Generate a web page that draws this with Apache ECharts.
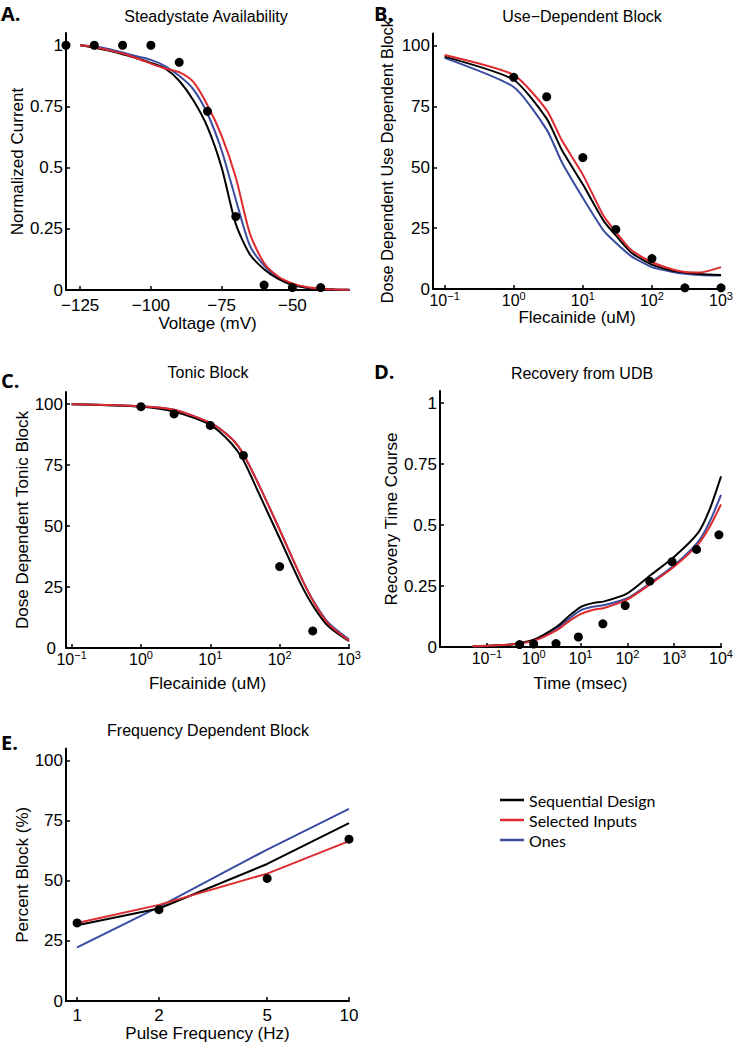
<!DOCTYPE html>
<html><head><meta charset="utf-8">
<script src="https://cdn.jsdelivr.net/npm/echarts@6/dist/echarts.min.js"></script>
<style>html,body{margin:0;padding:0;background:#fff}#c{width:736px;height:1043px}</style>
</head><body><div id="c"></div>
<script>
// ---------- Data ----------
const seriesNames = ['Sequential Design', 'Selected Inputs', 'Ones'];
const seriesColors = ['#000000', '#dd2a2e', '#3a4ca0'];

// A. Steadystate Availability
const aVolt = [-125,-120,-115,-110,-105,-100,-95,-90,-85,-80,-75,-70,-65,-60,-55,-50,-45,-40,-35,-30];
const aSeq  = [1.0,0.99,0.978,0.963,0.947,0.928,0.905,0.855,0.775,0.665,0.5,0.27,0.145,0.085,0.045,0.02,0.009,0.004,0.002,0.001];
const aSel  = [1.0,0.993,0.98,0.966,0.947,0.925,0.905,0.89,0.85,0.755,0.63,0.46,0.23,0.11,0.055,0.027,0.012,0.005,0.002,0.001];
const aOnes = [1.0,0.995,0.985,0.97,0.955,0.94,0.915,0.875,0.82,0.72,0.57,0.37,0.18,0.1,0.05,0.023,0.01,0.004,0.002,0.001];
const aExpX = [-130,-120,-110,-100,-90,-80,-70,-60,-50,-40];
const aExpY = [1.0,1.0,1.0,1.0,0.93,0.73,0.30,0.02,0.01,0.01];

// B. Use-Dependent Block
const bConc = [0.1,1,3,5,10,20,30,50,100,200,300,500,1000];
const bSeq  = [95.5,86,70,57,43,28,22,15,10,7.5,6.8,6.2,5.8];
const bSel  = [96.2,88,73.5,61,47,30,23.5,16,11,8,7,6.8,9];
const bOnes = [95,83,65.5,52,37.5,24,19,13.5,9,7,6.3,5.8,5.5];
const bExpX = [1,3,10,30,100,300,1000];
const bExpY = [87,79,54,24.5,12.5,0.5,0.5];

// C. Tonic Block
const cConc = [0.1,1,3,10,20,30,50,100,200,300,500,1000];
const cSeq  = [100,99,97,91.5,84,77,63.5,45,26.5,17.5,9,2.8];
const cSel  = [100,99.2,97.7,92.3,86,79.5,67,48.5,29.5,19.5,10,3];
const cOnes = [100,99.2,97.7,92.3,86,79.5,67,48.5,29.5,19.8,10.5,3.5];
const cExpX = [1,3,10,30,100,300];
const cExpY = [99,96,91.3,79,33.4,7];

// D. Recovery from UDB
const dTime = [0.05,0.1,0.32,1,3.2,5.6,10,18,32,100,320,1000,3200,5600,10000];
const dSeq  = [0.002,0.005,0.01,0.03,0.085,0.126,0.164,0.18,0.187,0.22,0.296,0.37,0.467,0.56,0.70];
const dSel  = [0.003,0.005,0.01,0.025,0.07,0.105,0.135,0.152,0.16,0.195,0.26,0.33,0.42,0.49,0.585];
const dOnes = [0.002,0.004,0.009,0.027,0.078,0.115,0.15,0.165,0.172,0.2,0.265,0.335,0.43,0.51,0.624];
const dExpX = [0.5,1,3,9,30,90,300,900,3000,9000];
const dExpY = [0.01,0.012,0.014,0.041,0.095,0.17,0.27,0.35,0.40,0.46];

// E. Frequency Dependent Block
const eFreq = [1,2,5,10];
const eSeq  = [31.5,38.5,57,74];
const eSel  = [32.5,40,53,66.5];
const eOnes = [22.3,39.2,63,79.9];
const eExpY = [32.5,38,51,67.3];

// Tick values
const aXTicks = [-125,-100,-75,-50];
const fracTicks = [0,0.25,0.5,0.75,1];
const pctTicks = [0,25,50,75,100];
const concTicks = [0.1,1,10,100,1000];
const timeTicks = [0.1,1,10,100,1000,10000];
const freqTicks = [1,2,5,10];

// ---------- Chart ----------
const FONT = 'Liberation Sans';
const chart = echarts.init(document.getElementById('c'), null, {renderer: 'svg'});

const grids = [
  {left: 66, top: 33, width: 283, height: 257},
  {left: 433, top: 33.5, width: 291, height: 255.5},
  {left: 66, top: 392, width: 283, height: 256},
  {left: 440, top: 391, width: 284, height: 256},
  {left: 66, top: 748.5, width: 283, height: 257}
];

const minus = s => String(s).replace('-', '\u2212');
const powFmt = v => { const e = Math.round(Math.log10(v)); return '{b|10}{s|' + minus(e) + '}'; };
const powRich = {
  b: {fontSize: 16, fontFamily: FONT, color: '#000'},
  s: {fontSize: 11, fontFamily: FONT, color: '#000', padding: [0, 0, 9, 0]}
};

function xAxis(i, type, min, max, name, ticks, fmt, nameGap, margin) {
  return {
    gridIndex: i, type, min, max, name, nameLocation: 'middle', nameGap,
    nameTextStyle: {fontSize: 17, fontFamily: FONT, color: '#000', verticalAlign: 'top'},
    axisLine: {show: true, onZero: false, lineStyle: {color: '#000', width: 2}},
    axisTick: {show: true, inside: true, length: 4, customValues: ticks, lineStyle: {color: '#000', width: 1.5}},
    minorTick: {show: false},
    splitLine: {show: false},
    axisLabel: {customValues: ticks, formatter: fmt, rich: powRich, fontSize: 17, fontFamily: FONT, color: '#000', margin}
  };
}
function yAxis(i, max, name, ticks, nameGap, nameSize, zeroPad) {
  return {
    gridIndex: i, type: 'value', min: 0, max, name, nameLocation: 'middle', nameGap,
    nameTextStyle: {fontSize: nameSize, fontFamily: FONT, color: '#000'},
    axisLine: {show: true, onZero: false, lineStyle: {color: '#000', width: 2}},
    axisTick: {show: true, inside: true, length: 4, customValues: ticks, lineStyle: {color: '#000', width: 1.5}},
    splitLine: {show: false},
    axisLabel: {customValues: ticks, fontSize: 17, fontFamily: FONT, color: '#000', margin: 3,
      formatter: v => (v === 0 && zeroPad) ? '{z|0}' : String(v),
      rich: {z: {fontSize: 17, fontFamily: FONT, color: '#000', padding: [0, zeroPad || 0, 0, 0]}}}
  };
}

const xAxes = [
  xAxis(0, 'value', -130, -30, 'Voltage (mV)', aXTicks, v => minus(v), 22, 7),
  xAxis(1, 'log', 0.068, 1000, 'Flecainide (uM)', concTicks, powFmt, 20, 1),
  xAxis(2, 'log', 0.083, 1000, 'Flecainide (uM)', concTicks, powFmt, 27, 1),
  xAxis(3, 'log', 0.01, 10000, 'Time (msec)', timeTicks, powFmt, 28, 1),
  xAxis(4, 'log', 0.91, 10, 'Pulse Frequency (Hz)', freqTicks, v => String(v), 21, 6)
];
const yAxes = [
  yAxis(0, 1.05, 'Normalized Current', fracTicks, 40, 17, 0),
  yAxis(1, 105, 'Dose Dependent Use Dependent Block', pctTicks, 38, 16.3, 0),
  yAxis(2, 105, 'Dose Dependent Tonic Block', pctTicks, 35, 17, 7),
  yAxis(3, 1.05, 'Recovery Time Course', fracTicks, 38, 17, 0),
  yAxis(4, 105, 'Percent Block (%)', pctTicks, 34, 17, 0)
];

const zip = (xs, ys) => xs.map((x, k) => [x, ys[k]]);
function lines(i, xs, seq, sel, ones, smooth) {
  const mk = (n, ys, z) => ({
    type: 'line', name: seriesNames[n], xAxisIndex: i, yAxisIndex: i,
    data: zip(xs, ys), showSymbol: false, symbol: 'none', smooth,
    lineStyle: {color: seriesColors[n], width: 2}, itemStyle: {color: seriesColors[n]}, z
  });
  return [mk(2, ones, 2), mk(0, seq, 3), mk(1, sel, 4)];
}
function dots(i, xs, ys) {
  return {type: 'scatter', xAxisIndex: i, yAxisIndex: i, data: zip(xs, ys), symbol: 'circle',
          symbolSize: 9, itemStyle: {color: '#000', opacity: 1}, z: 6};
}

const series = [].concat(
  lines(0, aVolt, aSeq, aSel, aOnes, 0.25), [dots(0, aExpX, aExpY)],
  lines(1, bConc, bSeq, bSel, bOnes, 0.2), [dots(1, bExpX, bExpY)],
  lines(2, cConc, cSeq, cSel, cOnes, 0.25), [dots(2, cExpX, cExpY)],
  lines(3, dTime, dSeq, dSel, dOnes, 0.25), [dots(3, dExpX, dExpY)],
  lines(4, eFreq, eSeq, eSel, eOnes, 0), [dots(4, eFreq, eExpY)]
);

const titles = [
  ['Steadystate Availability', 206, 16], ['Use\u2212Dependent Block', 582, 16],
  ['Tonic Block', 208, 372], ['Recovery from UDB', 582, 373],
  ['Frequency Dependent Block', 208, 730]
];
const letters = [['A.', 1, 13], ['B.', 374, 13], ['C.', 1, 380], ['D.', 374, 371], ['E.', 1, 742]];

const graphic = [].concat(
  titles.map(t => ({type: 'text', x: t[1], y: t[2], style: {text: t[0], fill: '#000',
    font: '16px "Liberation Sans"', textAlign: 'center', textVerticalAlign: 'middle'}})),
  letters.map(t => ({type: 'text', x: t[1], y: t[2], style: {text: t[0], fill: '#000',
    font: 'bold 20px "Open Sans"', textAlign: 'left', textVerticalAlign: 'middle'}}))
);

chart.setOption({
  animation: false,
  backgroundColor: '#fff',
  grid: grids,
  xAxis: xAxes,
  yAxis: yAxes,
  series,
  graphic,
  legend: {
    data: seriesNames, orient: 'vertical', left: 495, top: 787,
    icon: 'rect', itemWidth: 24, itemHeight: 2.5, itemGap: 4,
    textStyle: {fontSize: 16, fontFamily: 'Lato', color: '#000', lineHeight: 16, padding: [0, 0, 0, 0]},
    selectedMode: false
  }
});
</script></body></html>
